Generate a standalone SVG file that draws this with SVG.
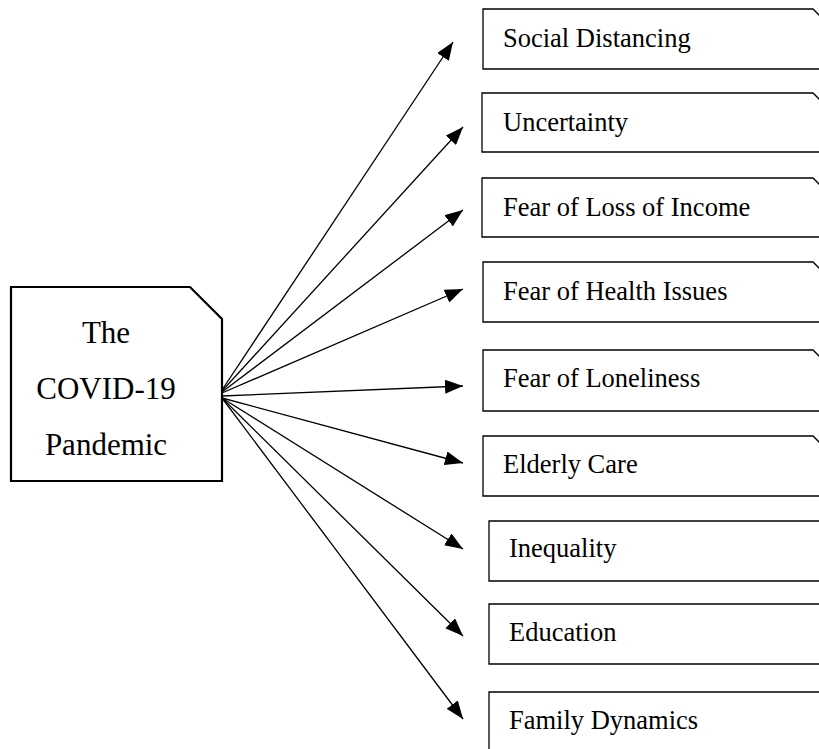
<svg xmlns="http://www.w3.org/2000/svg" width="819" height="749" viewBox="0 0 819 749">
<defs>
<marker id="ah" markerUnits="userSpaceOnUse" markerWidth="20" markerHeight="14" refX="18" refY="7" orient="auto">
<path d="M0,0 L18,7 L0,14 Z" fill="#000"/>
</marker>
<style>
.box{fill:#fff;stroke:#000;stroke-width:1.3}
.main{fill:#fff;stroke:#000;stroke-width:2.2}
.lbl{font-family:"Liberation Serif","Times New Roman",serif;font-size:26.5px;fill:#000}
.big{font-family:"Liberation Serif","Times New Roman",serif;font-size:31px;fill:#000;text-anchor:middle}
.con line{stroke:#000;stroke-width:1.3;marker-end:url(#ah)}
</style>
</defs>
<rect width="819" height="749" fill="#fff"/>
<g id="connectors" class="con">
<line x1="222" y1="390" x2="453" y2="42"/>
<line x1="222" y1="391" x2="463" y2="127"/>
<line x1="222" y1="392" x2="463" y2="210"/>
<line x1="222" y1="393" x2="463" y2="289"/>
<line x1="222" y1="396" x2="463" y2="386"/>
<line x1="222" y1="398" x2="463" y2="463"/>
<line x1="222" y1="398" x2="463" y2="549"/>
<line x1="222" y1="398" x2="463" y2="636"/>
<line x1="222" y1="398" x2="463" y2="719"/>
</g>
<g id="covid">
<path class="main" d="M11,287 H190 L222,319 V481 H11 Z"/>
<text class="big" x="106" y="343">The</text>
<text class="big" x="106" y="399">COVID-19</text>
<text class="big" x="106" y="455">Pandemic</text>
</g>
<g id="social-distancing">
<path class="box" d="M483,9 H813 L825,21 V69 H483 Z"/>
<text class="lbl" x="503" y="47">Social Distancing</text>
</g>
<g id="uncertainty">
<path class="box" d="M482,93 H813 L825,105 V152 H482 Z"/>
<text class="lbl" x="503" y="131">Uncertainty</text>
</g>
<g id="fear-income">
<path class="box" d="M482,178 H813 L825,190 V237 H482 Z"/>
<text class="lbl" x="503" y="216">Fear of Loss of Income</text>
</g>
<g id="fear-health">
<path class="box" d="M483,262 H813 L825,274 V322 H483 Z"/>
<text class="lbl" x="503" y="300">Fear of Health Issues</text>
</g>
<g id="fear-loneliness">
<path class="box" d="M483,350 H813 L825,362 V411 H483 Z"/>
<text class="lbl" x="503" y="387">Fear of Loneliness</text>
</g>
<g id="elderly-care">
<path class="box" d="M483,436 H813 L825,448 V496 H483 Z"/>
<text class="lbl" x="503" y="473">Elderly Care</text>
</g>
<g id="inequality">
<path class="box" d="M489,521 H825 V581 H489 Z"/>
<text class="lbl" x="509" y="557">Inequality</text>
</g>
<g id="education">
<path class="box" d="M489,604 H825 V664 H489 Z"/>
<text class="lbl" x="509" y="641">Education</text>
</g>
<g id="family-dynamics">
<path class="box" d="M489,692 H825 V755 H489 Z"/>
<text class="lbl" x="509" y="729">Family Dynamics</text>
</g>
</svg>
